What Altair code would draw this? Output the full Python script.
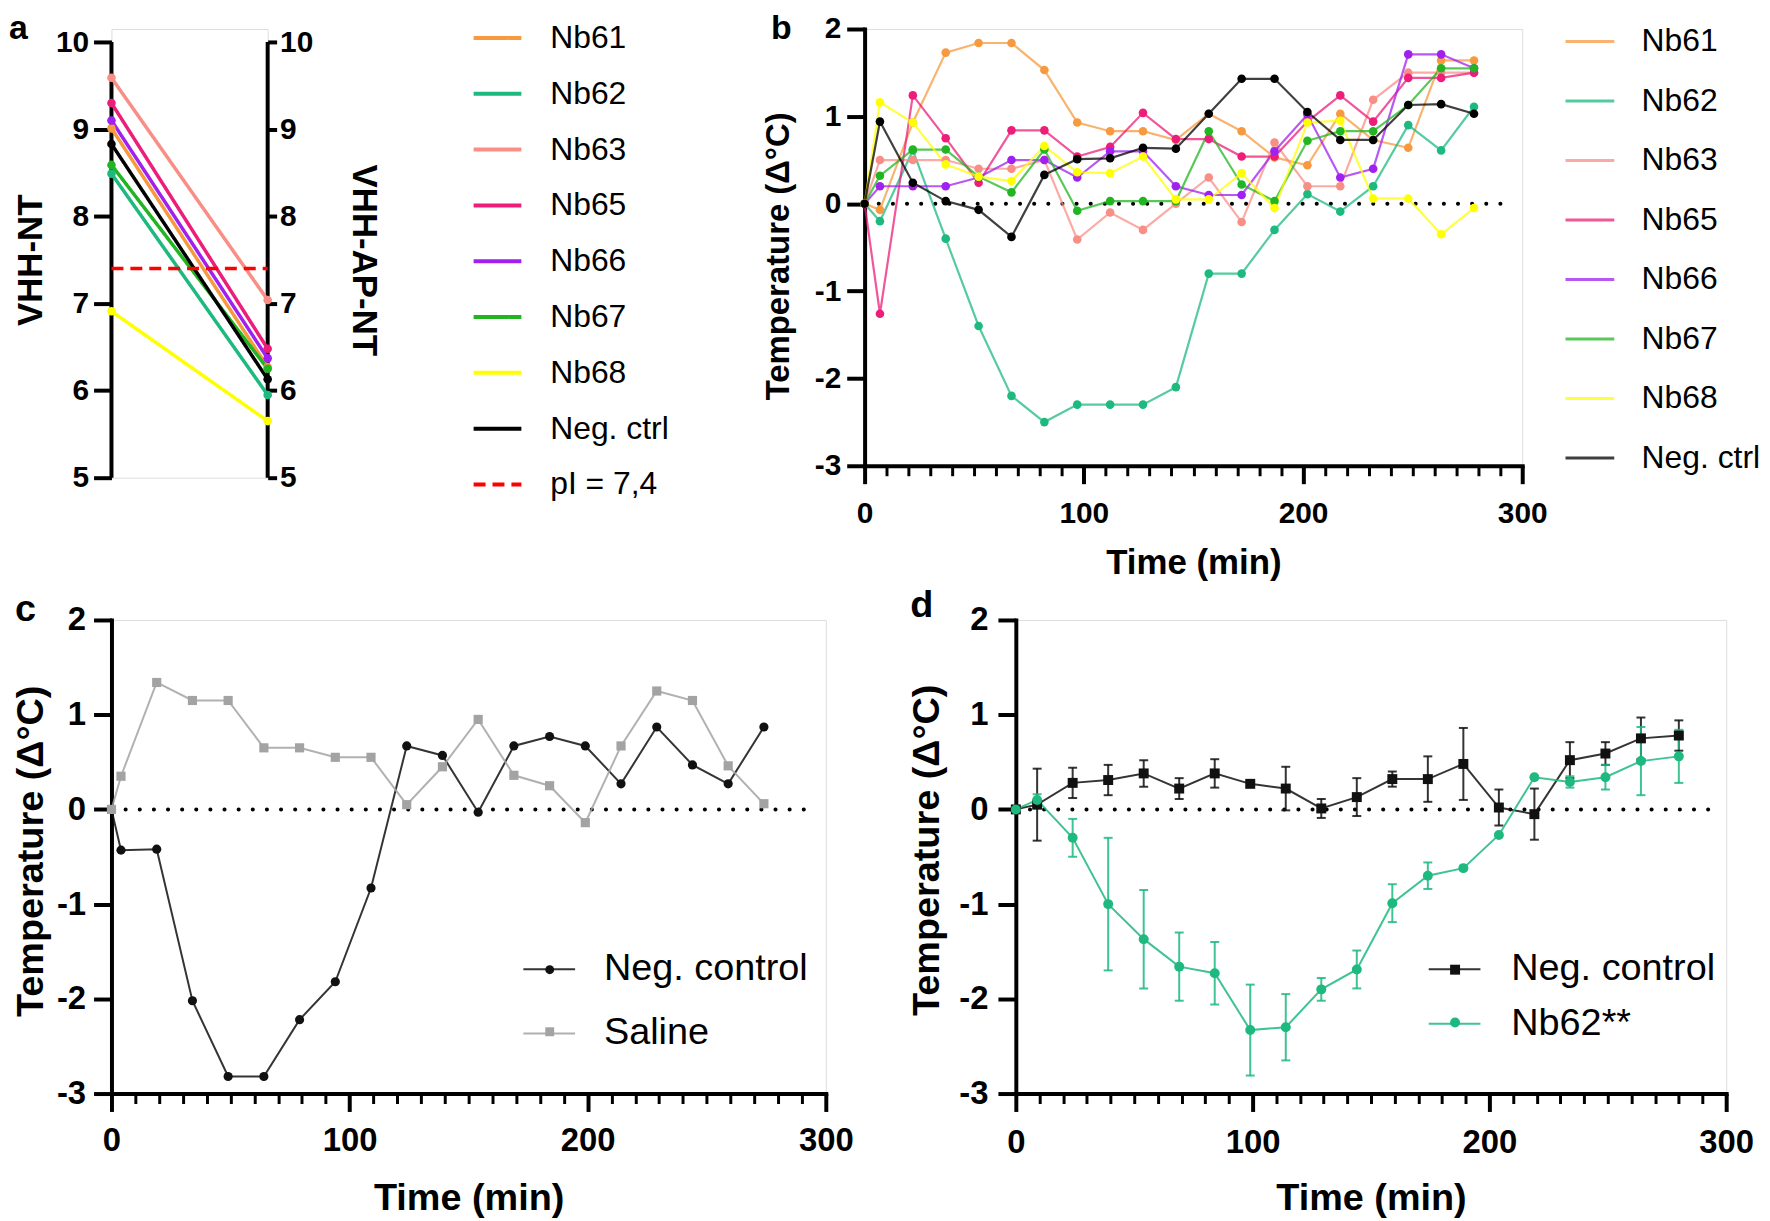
import altair as alt
import pandas as pd

FONT = "Liberation Sans"

# ---------------- panel a : pI values ----------------
A_NAMES = ["Nb61", "Nb62", "Nb63", "Nb65", "Nb66", "Nb67", "Nb68", "Neg. ctrl"]
A_VHH_NT = [9.01, 8.49, 9.59, 9.30, 9.10, 8.59, 6.91, 8.83]
A_VHH_AP_NT = [6.27, 5.95, 7.04, 6.48, 6.37, 6.25, 5.65, 6.13]
A_PI_NAME = "pI = 7,4"
A_PI_VALUE = 7.4
A_TICKS = [5, 6, 7, 8, 9, 10]

NB_COLORS = ["#F7993F", "#1DB97F", "#F98E86", "#EC1E79", "#A020F0", "#22B522", "#FFFF00", "#000000"]
PI_COLOR = "#FF0000"

# ---------------- panel b : temperature per nanobody ----------------
B_TIMES = [0, 7, 22, 37, 52, 67, 82, 97, 112, 127, 142, 157, 172, 187, 202, 217, 232, 248, 263, 278]
B_NB61 = [0, -0.07, 0.93, 1.73, 1.84, 1.84, 1.53, 0.93, 0.83, 0.83, 0.73, 1.03, 0.83, 0.53, 0.44, 1.03, 0.73, 0.64, 1.64, 1.64]
B_NB62 = [0, -0.20, 0.61, -0.40, -1.40, -2.20, -2.50, -2.30, -2.30, -2.30, -2.10, -0.80, -0.80, -0.30, 0.11, -0.09, 0.20, 0.90, 0.61, 1.11]
B_NB63 = [0, 0.50, 0.50, 0.50, 0.40, 0.40, 0.50, -0.41, -0.10, -0.30, 0.00, 0.30, -0.21, 0.70, 0.20, 0.20, 1.19, 1.50, 1.50, 1.50]
B_NB65 = [0, -1.26, 1.24, 0.75, 0.24, 0.84, 0.84, 0.54, 0.65, 1.04, 0.74, 0.74, 0.54, 0.54, 0.94, 1.24, 0.94, 1.44, 1.44, 1.50]
B_NB66 = [0, 0.20, 0.20, 0.20, 0.30, 0.50, 0.50, 0.30, 0.60, 0.60, 0.20, 0.10, 0.10, 0.60, 1.02, 0.30, 0.40, 1.71, 1.71, 1.55]
B_NB67 = [0, 0.32, 0.62, 0.62, 0.31, 0.13, 0.62, -0.08, 0.03, 0.03, 0.03, 0.83, 0.22, 0.03, 0.72, 0.83, 0.83, 1.13, 1.55, 1.55]
B_NB68 = [0, 1.16, 0.93, 0.45, 0.31, 0.26, 0.66, 0.36, 0.35, 0.54, 0.05, 0.05, 0.35, -0.05, 0.93, 0.95, 0.06, 0.06, -0.35, -0.05]
B_NEG = [0, 0.94, 0.24, 0.03, -0.07, -0.38, 0.33, 0.51, 0.52, 0.64, 0.63, 1.03, 1.43, 1.43, 1.05, 0.73, 0.73, 1.13, 1.14, 1.03]
B_VALUES = [B_NB61, B_NB62, B_NB63, B_NB65, B_NB66, B_NB67, B_NB68, B_NEG]

# ---------------- panel c : neg. control vs saline ----------------
C_SERIES = ["Neg. control", "Saline"]
C_TIMES = [0, 4, 19, 34, 49, 64, 79, 94, 109, 124, 139, 154, 169, 184, 199, 214, 229, 244, 259, 274]
C_NEG = [0, -0.43, -0.42, -2.02, -2.82, -2.82, -2.22, -1.82, -0.83, 0.67, 0.57, -0.03, 0.67, 0.77, 0.67, 0.27, 0.87, 0.47, 0.27, 0.87]
C_SALINE = [0, 0.35, 1.34, 1.15, 1.15, 0.65, 0.65, 0.55, 0.55, 0.05, 0.45, 0.95, 0.36, 0.25, -0.14, 0.67, 1.25, 1.15, 0.46, 0.06]
C_COLORS = ["#111111", "#A3A3A3"]

# ---------------- panel d : mean +/- error ----------------
D_SERIES = ["Neg. control", "Nb62**"]
D_TIMES = [0, 9, 24, 39, 54, 69, 84, 99, 114, 129, 144, 159, 174, 189, 204, 219, 234, 249, 264, 280]
D_NEG_MEAN = [0, 0.05, 0.28, 0.31, 0.38, 0.22, 0.38, 0.27, 0.22, 0.01, 0.13, 0.32, 0.32, 0.48, 0.02, -0.05, 0.52, 0.59, 0.75, 0.78]
D_NEG_ERR = [0, 0.38, 0.16, 0.16, 0.14, 0.11, 0.15, 0.03, 0.23, 0.10, 0.20, 0.08, 0.24, 0.38, 0.19, 0.27, 0.19, 0.12, 0.22, 0.16]
D_NB62_MEAN = [0, 0.10, -0.30, -1.00, -1.37, -1.66, -1.73, -2.33, -2.30, -1.90, -1.69, -0.99, -0.70, -0.62, -0.27, 0.34, 0.29, 0.34, 0.51, 0.56]
D_NB62_ERR = [0, 0.06, 0.20, 0.70, 0.52, 0.36, 0.33, 0.48, 0.35, 0.12, 0.20, 0.20, 0.14, 0.00, 0.00, 0.00, 0.06, 0.13, 0.36, 0.28]
D_COLORS = ["#111111", "#1DB97F"]

T_TICKS = [-3, -2, -1, 0, 1, 2]
X_MAJOR = [0, 100, 200, 300]
X_MINOR = [m for m in range(10, 300, 10) if m % 100 != 0]
ZERO_LINE = {"t": [0, 296], "value": [0, 0]}

# ---------------- helpers ----------------
def y_axis(title, title_x, title_y, label_size, title_size, label_pad, values, orient="left",
           tick_size=18, domain=True, angle=270):
    return alt.Axis(
        orient=orient, values=values, title=title, grid=False,
        domain=domain, domainColor="black", domainWidth=4, domainCap="square",
        ticks=True, tickColor="black", tickSize=tick_size, tickWidth=4,
        labelFont=FONT, labelFontSize=label_size, labelFontWeight="bold", labelColor="black",
        labelPadding=label_pad, labelOverlap=False, labelExpr="'' + datum.value",
        titleFont=FONT, titleFontSize=title_size, titleFontWeight="bold", titleColor="black",
        titleAngle=angle, titleAlign="center", titleBaseline="middle",
        titleX=title_x, titleY=title_y)


def x_axis_main(title, title_x, title_y, label_size, title_size, label_pad):
    return alt.Axis(
        orient="bottom", values=X_MAJOR, title=title, grid=False,
        domain=True, domainColor="black", domainWidth=4, domainCap="square",
        ticks=True, tickColor="black", tickSize=18, tickWidth=4,
        labelFont=FONT, labelFontSize=label_size, labelFontWeight="bold", labelColor="black",
        labelPadding=label_pad, labelFlush=False, labelOverlap=False,
        titleFont=FONT, titleFontSize=title_size, titleFontWeight="bold", titleColor="black",
        titleAngle=0, titleAlign="center", titleBaseline="middle",
        titleX=title_x, titleY=title_y)


def x_axis_minor():
    return alt.Axis(orient="bottom", values=X_MINOR, title=None, grid=False, domain=False,
                    labels=False, ticks=True, tickColor="black", tickSize=10, tickWidth=3)


def letter(ch, size, dx, dy):
    return alt.Chart(pd.DataFrame({"label": [ch]})).mark_text(
        font=FONT, fontSize=size, fontWeight="bold", align="left", baseline="alphabetic", color="black"
    ).encode(x=alt.value(dx), y=alt.value(dy), text="label:N")


def zero_line(xscale, yscale):
    return alt.Chart(pd.DataFrame(ZERO_LINE)).mark_line(
        color="black", strokeWidth=4, strokeDash=[0.1, 14.1], strokeCap="round"
    ).encode(x=alt.X("t:Q", scale=xscale, axis=x_axis_minor()),
             y=alt.Y("value:Q", scale=yscale, axis=None))


# ---------------- panel a ----------------
W_A, H_A = 157, 451
a_rows = []
for n, v0, v1 in zip(A_NAMES, A_VHH_NT, A_VHH_AP_NT):
    a_rows.append({"name": n, "pos": 0, "value": v0})
    a_rows.append({"name": n, "pos": 1, "value": v1})
a_pts_df = pd.DataFrame(a_rows)
a_lines_df = pd.concat([a_pts_df, pd.DataFrame({"name": [A_PI_NAME] * 2, "pos": [0, 1],
                                                "value": [A_PI_VALUE] * 2})], ignore_index=True)
a_frame_df = pd.DataFrame({"pos": [0, 1], "lo": [A_TICKS[0]] * 2, "hi": [A_TICKS[-1]] * 2})

A_DOMAIN = A_NAMES + [A_PI_NAME]
a_x = alt.X("pos:Q", scale=alt.Scale(domain=[0, 1], nice=False), axis=None)
a_ys = alt.Scale(domain=[5, 10.15], nice=False, zero=False)
a_cscale = alt.Scale(domain=A_DOMAIN, range=NB_COLORS + [PI_COLOR])
a_legend = alt.Legend(title=None, orient="none", legendX=362, legendY=-17, symbolType="stroke",
                      symbolSize=2304, symbolStrokeWidth=4, labelFont=FONT, labelFontSize=32,
                      labelColor="black", labelOffset=27, rowPadding=14.1, labelLimit=400)

a_frame = alt.Chart(a_frame_df).mark_rule(strokeWidth=4, color="black").encode(
    x=a_x, y=alt.Y("lo:Q", scale=a_ys, axis=None), y2="hi:Q")
a_lines = alt.Chart(a_lines_df).mark_line(strokeWidth=3.5).encode(
    x=a_x,
    y=alt.Y("value:Q", scale=a_ys,
            axis=y_axis("VHH-NT", -81, 232, 30, 35, 5, A_TICKS, domain=False)),
    color=alt.Color("name:N", scale=a_cscale, legend=a_legend),
    strokeDash=alt.StrokeDash("name:N", scale=alt.Scale(domain=A_DOMAIN,
                              range=[[1, 0]] * len(A_NAMES) + [[12, 7]]), legend=a_legend))
a_pts = alt.Chart(a_pts_df).mark_circle(size=75, opacity=1).encode(
    x=a_x,
    y=alt.Y("value:Q", scale=a_ys,
            axis=y_axis("VHH-AP-NT", 96, 232, 30, 35, 3, A_TICKS, orient="right", tick_size=9,
                        domain=False, angle=90)),
    color=alt.Color("name:N", scale=a_cscale, legend=None))
panel_a = alt.layer(a_frame, a_lines, a_pts, letter("a", 34, -103, 10)).resolve_axis(
    y="independent").properties(width=W_A, height=H_A)

# ---------------- panel b ----------------
W_B, H_B = 661, 439
b_df = pd.DataFrame([{"name": n, "t": t, "value": v}
                     for n, vals in zip(A_NAMES, B_VALUES) for t, v in zip(B_TIMES, vals)])
b_xs = alt.Scale(domain=[0, 300], nice=False)
b_ys = alt.Scale(domain=[-3, 2], nice=False)
b_cscale = alt.Scale(domain=A_NAMES, range=NB_COLORS)
b_legend = alt.Legend(title=None, orient="none", legendX=703, legendY=-13.5, symbolType="stroke",
                      symbolSize=2401, symbolStrokeWidth=3, labelFont=FONT, labelFontSize=32,
                      labelColor="black", labelOffset=26, rowPadding=17.8, labelLimit=400)
b_lines = alt.Chart(b_df).mark_line(strokeWidth=2.2, opacity=0.75).encode(
    x=alt.X("t:Q", scale=b_xs, axis=x_axis_main("Time (min)", W_B / 2, 97, 30, 35, 15)),
    y=alt.Y("value:Q", scale=b_ys,
            axis=y_axis("Temperature (Δ°C)", -86, 228, 30, 33, 6, T_TICKS)),
    color=alt.Color("name:N", scale=b_cscale, legend=b_legend),
    detail="name:N")
b_pts = alt.Chart(b_df).mark_circle(size=75, opacity=1).encode(
    x=alt.X("t:Q", scale=b_xs, axis=None),
    y=alt.Y("value:Q", scale=b_ys, axis=None),
    color=alt.Color("name:N", scale=b_cscale, legend=None))
panel_b = alt.layer(zero_line(b_xs, b_ys), b_lines, b_pts, letter("b", 34, -94, 10)).resolve_axis(
    x="independent", y="independent").properties(width=W_B, height=H_B)

# ---------------- panel c ----------------
W_C, H_C = 718, 476
c_df = pd.DataFrame([{"series": s, "t": t, "value": v}
                     for s, vals in zip(C_SERIES, [C_NEG, C_SALINE]) for t, v in zip(C_TIMES, vals)])
c_cscale = alt.Scale(domain=C_SERIES, range=C_COLORS)
c_sscale = alt.Scale(domain=C_SERIES, range=["circle", "square"])
c_line_legend = alt.Legend(title=None, orient="none", legendX=413, legendY=324, symbolType="stroke",
                           symbolSize=2704, symbolStrokeWidth=2, labelFont=FONT, labelFontSize=38,
                           labelColor="black", labelOffset=28, rowPadding=18.7, labelLimit=500)
c_pt_legend = alt.Legend(title=None, orient="none", legendX=435, legendY=346, symbolSize=80,
                         labelFontSize=1, labelExpr="''", rowPadding=52.4, labelLimit=10)
c_lines = alt.Chart(c_df).mark_line(strokeWidth=2, opacity=0.85).encode(
    x=alt.X("t:Q", scale=b_xs, axis=x_axis_main("Time (min)", W_C / 2, 106, 33, 38, 13)),
    y=alt.Y("value:Q", scale=b_ys,
            axis=y_axis("Temperature (Δ°C)", -80, 232, 33, 38, 8, T_TICKS)),
    color=alt.Color("series:N", scale=c_cscale, legend=c_line_legend))
c_pts = alt.Chart(c_df).mark_point(filled=True, size=85, opacity=1).encode(
    x=alt.X("t:Q", scale=b_xs, axis=None),
    y=alt.Y("value:Q", scale=b_ys, axis=None),
    color=alt.Color("series:N", scale=c_cscale, legend=c_pt_legend),
    shape=alt.Shape("series:N", scale=c_sscale, legend=c_pt_legend))
panel_c = alt.layer(zero_line(b_xs, b_ys), c_lines, c_pts, letter("c", 38, -97, 1)).resolve_axis(
    x="independent", y="independent").resolve_legend(color="independent", shape="independent").properties(
    width=W_C, height=H_C)

# ---------------- panel d ----------------
W_D, H_D = 714, 476
d_rows = []
for s, means, errs in zip(D_SERIES, [D_NEG_MEAN, D_NB62_MEAN], [D_NEG_ERR, D_NB62_ERR]):
    for t, m, e in zip(D_TIMES, means, errs):
        d_rows.append({"series": s, "t": t, "mean": m, "err": e, "lo": m - e, "hi": m + e})
d_df = pd.DataFrame(d_rows)
d_err_df = d_df[d_df["err"] > 0]
d_cscale = alt.Scale(domain=D_SERIES, range=D_COLORS)
d_sscale = alt.Scale(domain=D_SERIES, range=["square", "circle"])
d_line_legend = alt.Legend(title=None, orient="none", legendX=414, legendY=324, symbolType="stroke",
                           symbolSize=2704, symbolStrokeWidth=2, labelFont=FONT, labelFontSize=38,
                           labelColor="black", labelOffset=30, rowPadding=8.8, labelLimit=500)
d_pt_legend = alt.Legend(title=None, orient="none", legendX=435.5, legendY=345.5, symbolSize=100,
                         labelFontSize=1, labelExpr="''", rowPadding=42, labelLimit=10)
d_bars = alt.Chart(d_err_df).mark_rule(strokeWidth=2, opacity=0.85).encode(
    x=alt.X("t:Q", scale=b_xs, axis=None),
    y=alt.Y("lo:Q", scale=b_ys, axis=None), y2="hi:Q",
    color=alt.Color("series:N", scale=d_cscale, legend=None))
d_cap_lo = alt.Chart(d_err_df).mark_tick(orient="horizontal", size=9, thickness=2, opacity=0.85).encode(
    x=alt.X("t:Q", scale=b_xs, axis=None),
    y=alt.Y("lo:Q", scale=b_ys, axis=None),
    color=alt.Color("series:N", scale=d_cscale, legend=None))
d_cap_hi = alt.Chart(d_err_df).mark_tick(orient="horizontal", size=9, thickness=2, opacity=0.85).encode(
    x=alt.X("t:Q", scale=b_xs, axis=None),
    y=alt.Y("hi:Q", scale=b_ys, axis=None),
    color=alt.Color("series:N", scale=d_cscale, legend=None))
d_lines = alt.Chart(d_df).mark_line(strokeWidth=2, opacity=0.85).encode(
    x=alt.X("t:Q", scale=b_xs, axis=x_axis_main("Time (min)", W_D / 2, 106, 33, 38, 15)),
    y=alt.Y("mean:Q", scale=b_ys,
            axis=y_axis("Temperature (Δ°C)", -89, 231, 33, 38, 10, T_TICKS)),
    color=alt.Color("series:N", scale=d_cscale, legend=d_line_legend))
d_pts = alt.Chart(d_df).mark_point(filled=True, size=100, opacity=1).encode(
    x=alt.X("t:Q", scale=b_xs, axis=None),
    y=alt.Y("mean:Q", scale=b_ys, axis=None),
    color=alt.Color("series:N", scale=d_cscale, legend=d_pt_legend),
    shape=alt.Shape("series:N", scale=d_sscale, legend=d_pt_legend))
panel_d = alt.layer(zero_line(b_xs, b_ys), d_bars, d_cap_lo, d_cap_hi, d_lines, d_pts,
                    letter("d", 38, -106, -3)).resolve_axis(
    x="independent", y="independent").resolve_legend(color="independent", shape="independent").properties(
    width=W_D, height=H_D)

# ---------------- assemble ----------------
row1 = alt.hconcat(panel_a, panel_b, spacing=92).resolve_scale(
    color="independent", strokeDash="independent", shape="independent").resolve_legend(
    color="independent", strokeDash="independent", shape="independent")
row2 = alt.hconcat(panel_c, panel_d, spacing=53).resolve_scale(
    color="independent", strokeDash="independent", shape="independent").resolve_legend(
    color="independent", strokeDash="independent", shape="independent")
chart = alt.vconcat(row1, row2, spacing=5).resolve_scale(
    color="independent", strokeDash="independent", shape="independent").resolve_legend(
    color="independent", strokeDash="independent", shape="independent").properties(
    padding=0).configure_view(stroke=None).configure(font=FONT)

chart.save("out.html", embed_options={"renderer": "svg", "actions": False})
